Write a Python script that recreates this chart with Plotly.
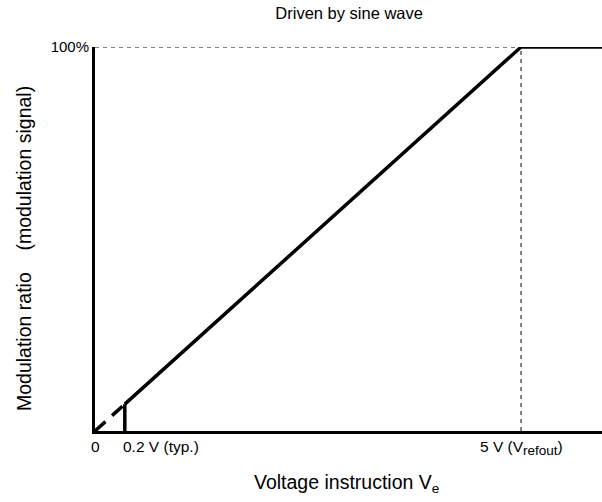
import plotly.graph_objects as go

# schematic data (x in display units where 5 V sits at x=5)
line_x = [0.35, 5.0, 5.95]
line_y = [7.0, 100.0, 100.0]
ext_x = [0.0, 0.35]
ext_y = [0.0, 7.0]
typ_x = [0.35, 0.35]
typ_y = [0.0, 7.0]
ref_h_x = [0.0, 5.0]
ref_h_y = [100.0, 100.0]
ref_v_x = [5.0, 5.0]
ref_v_y = [0.0, 100.0]
x_tick_pos = [0.0, 0.35, 5.0]
x_tick_text = ["0", "0.2 V (typ.)",
               "5 V (V<sub><span style='font-size:13.5px'>refout</span></sub>)"]
x_tick_anchor = ["center", "left", "center"]
y_tick_pos = [100]
y_tick_text = ["100%"]

font = "Liberation Sans, Arial, sans-serif"
fig = go.Figure()
fig.add_trace(go.Scatter(x=ref_h_x, y=ref_h_y, mode="lines",
                         line=dict(color="black", width=1, dash="4px,4px")))
fig.add_trace(go.Scatter(x=ref_v_x, y=ref_v_y, mode="lines",
                         line=dict(color="black", width=1, dash="4px,4px")))
fig.add_trace(go.Scatter(x=ext_x, y=ext_y, mode="lines",
                         line=dict(color="black", width=3.5, dash="14px,9px")))
fig.add_trace(go.Scatter(x=typ_x, y=typ_y, mode="lines",
                         line=dict(color="black", width=3.5)))
fig.add_trace(go.Scatter(x=line_x, y=line_y, mode="lines",
                         line=dict(color="black", width=3.5)))

for xp, txt, anc in zip(x_tick_pos, x_tick_text, x_tick_anchor):
    fig.add_annotation(x=xp, y=0, xref="x", yref="paper", text=txt,
                       showarrow=False, xanchor=anc, yanchor="top", yshift=-5,
                       xshift=-4 if anc == "left" else 0,
                       font=dict(family=font, size=15.5, color="black"))

# axis titles
fig.add_annotation(x=0.5, y=0, xref="paper", yref="paper",
                   text="Voltage instruction V<sub>e</sub>", showarrow=False,
                   xanchor="center", yanchor="middle", yshift=-52, xshift=-2,
                   font=dict(family=font, size=19.5, color="black"))
fig.add_annotation(x=0, y=0.5, xref="paper", yref="paper",
                   text="Modulation ratio\u00a0\u00a0\u00a0\u00a0(modulation signal)",
                   showarrow=False, textangle=-90, xanchor="center", yanchor="middle",
                   xshift=-71, yshift=-10,
                   font=dict(family=font, size=19.5, color="black"))

fig.update_layout(
    width=602, height=502,
    margin=dict(l=95, r=0, t=47, b=71),
    paper_bgcolor="white", plot_bgcolor="white",
    showlegend=False,
    title=dict(text="Driven by sine wave", x=0.58, xanchor="center", y=0.974, yanchor="middle",
               font=dict(family=font, size=16.5, color="black")),
    xaxis=dict(range=[0, 5.95], showgrid=False, zeroline=False, showticklabels=False,
               showline=True, linecolor="black", linewidth=3, ticks=""),
    yaxis=dict(range=[0, 100], showgrid=False, zeroline=False,
               tickvals=y_tick_pos, ticktext=y_tick_text, ticks="",
               tickfont=dict(family=font, size=15, color="black"),
               showline=True, linecolor="black", linewidth=3),
)
fig.write_html("out.html", config={"displayModeBar": False},
               post_script="document.body.style.margin='0';")
